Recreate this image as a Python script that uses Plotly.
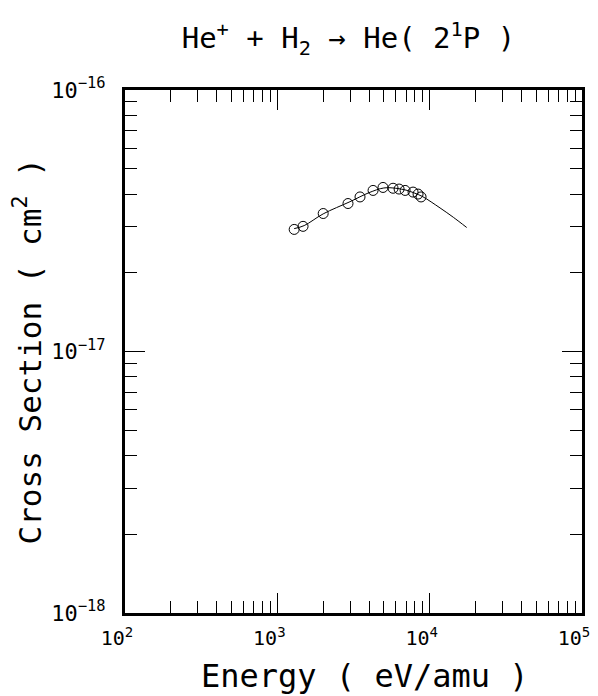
import plotly.graph_objects as go

# Measured data points (open circles)
energy_pts = [1290, 1475, 2000, 2910, 3490, 4250, 4940, 5750, 6300, 6900, 7780, 8390, 8780]
sigma_pts = [2.93e-17, 3.01e-17, 3.37e-17, 3.68e-17, 3.90e-17, 4.13e-17, 4.24e-17,
             4.21e-17, 4.18e-17, 4.13e-17, 4.07e-17, 4.00e-17, 3.90e-17]

# Fitted curve
energy_fit = [1290, 1500, 2000, 3000, 4000, 5000, 6000, 7000, 8000, 9000, 11700, 14300, 17500]
sigma_fit = [2.95e-17, 3.03e-17, 3.36e-17, 3.74e-17, 4.05e-17, 4.22e-17, 4.21e-17,
             4.14e-17, 4.03e-17, 3.91e-17, 3.54e-17, 3.26e-17, 2.98e-17]

x_tickvals = [1e2, 1e3, 1e4, 1e5]
x_ticktext = ["10<sup>2</sup>", "10<sup>3</sup>", "10<sup>4</sup>", "10<sup>5</sup>"]
y_tickvals = [1e-18, 1e-17, 1e-16]
y_ticktext = ["10<sup>−18</sup>", "10<sup>−17</sup>", "10<sup>−16</sup>"]

x_minor = [m * 10**d for d in range(2, 5) for m in range(2, 10)]
y_minor = [m * 10.0**d for d in range(-18, -16) for m in range(2, 10)]

title_text = "He<sup>+</sup> + H<sub>2</sub> → He( 2<sup>1</sup>P )"
x_title = "Energy ( eV/amu )"
y_title = "Cross Section ( cm<sup>2</sup> )"

fig = go.Figure()
fig.add_trace(go.Scatter(x=energy_fit, y=sigma_fit, mode="lines",
                         line=dict(color="black", width=1, shape="spline"),
                         showlegend=False, hoverinfo="skip"))
fig.add_trace(go.Scatter(x=energy_pts, y=sigma_pts, mode="markers",
                         marker=dict(symbol="circle-open", size=10,
                                     color="black", line=dict(width=1)),
                         showlegend=False))

font_family = "DejaVu Sans Mono"
fig.update_layout(
    width=590, height=688,
    margin=dict(l=117, r=16, t=82, b=83, autoexpand=False),
    paper_bgcolor="white", plot_bgcolor="white",
    font=dict(family=font_family, color="black"),
    title=dict(text=title_text,
               x=0.577, xanchor="center", y=0.956, yanchor="middle",
               font=dict(size=29, family=font_family, color="black")),
    annotations=[
        dict(text=x_title, xref="paper", yref="paper", x=0.525, y=0,
             xanchor="center", yanchor="middle", yshift=-63, showarrow=False,
             font=dict(size=32, family=font_family, color="black")),
        dict(text=y_title, xref="paper", yref="paper", x=0, y=0.5,
             xanchor="center", yanchor="middle", xshift=-98, showarrow=False,
             textangle=-90,
             font=dict(size=31, family=font_family, color="black")),
    ],
)
fig.update_xaxes(
    type="log", range=[2, 5], automargin=False,
    tickvals=x_tickvals, ticktext=x_ticktext,
    ticks="inside", ticklen=20, tickwidth=1, tickcolor="black",
    minor=dict(tickvals=x_minor, ticks="inside", ticklen=12, tickwidth=1, tickcolor="black"),
    showline=True, linewidth=3, linecolor="black", mirror="allticks",
    showgrid=False, zeroline=False,
    tickfont=dict(size=20, family=font_family),
    ticklabelshift=-8, ticklabelstandoff=5, ticklabeloverflow="allow",
)
fig.update_yaxes(
    type="log", range=[-18, -16], automargin=False,
    tickvals=y_tickvals, ticktext=y_ticktext,
    ticks="inside", ticklen=20, tickwidth=1, tickcolor="black",
    minor=dict(tickvals=y_minor, ticks="inside", ticklen=12, tickwidth=1, tickcolor="black"),
    showline=True, linewidth=3, linecolor="black", mirror="allticks",
    showgrid=False, zeroline=False,
    tickfont=dict(size=22, family=font_family),
    ticklabelstandoff=12, ticklabeloverflow="allow",
)

fig.write_html("out.html")
